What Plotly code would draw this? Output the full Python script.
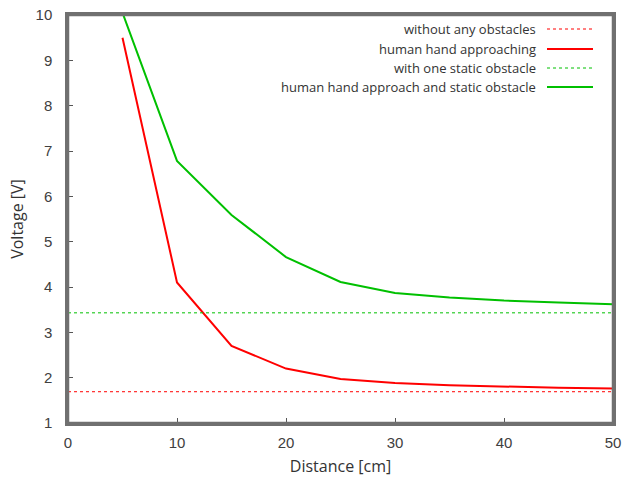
import plotly.graph_objects as go

distance = [5, 10, 15, 20, 25, 30, 35, 40, 45, 50]
hand_only = [9.5, 4.1, 2.70, 2.20, 1.97, 1.88, 1.83, 1.80, 1.78, 1.76]
hand_and_obstacle = [10.05, 6.78, 5.59, 4.66, 4.11, 3.87, 3.77, 3.70, 3.66, 3.62]
baseline_x = [0, 50]
no_obstacle_level = [1.69, 1.69]
static_obstacle_level = [3.43, 3.43]

names = ["without any obstacles", "human hand approaching",
         "with one static obstacle", "human hand approach and static obstacle"]
red = "#ff0000"
green = "#00c000"

W, H = 636, 479
L, R, T, B = 68, 23, 15, 56
pw, ph = W - L - R, H - T - B

fig = go.Figure()
fig.add_trace(go.Scatter(x=baseline_x, y=no_obstacle_level, mode="lines",
                         line=dict(color=red, width=1, dash="dot"), name=names[0]))
fig.add_trace(go.Scatter(x=distance, y=hand_only, mode="lines",
                         line=dict(color=red, width=2), name=names[1]))
fig.add_trace(go.Scatter(x=baseline_x, y=static_obstacle_level, mode="lines",
                         line=dict(color=green, width=1, dash="dot"), name=names[2]))
fig.add_trace(go.Scatter(x=distance, y=hand_and_obstacle, mode="lines",
                         line=dict(color=green, width=2), name=names[3]))


def fx(px):
    return (px - L) / pw


def fy(py):
    return 1 - (py - T) / ph


rows_y = [29, 49, 68, 87]
styles = [(red, 1, "dot"), (red, 2, "solid"), (green, 1, "dot"), (green, 2, "solid")]
for name, ry, (c, w, d) in zip(names, rows_y, styles):
    fig.add_annotation(x=fx(538), y=fy(ry), xref="paper", yref="paper",
                       text=name, showarrow=False, xanchor="right", yanchor="middle",
                       font=dict(size=13, color="#333333"))
    fig.add_shape(type="line", xref="paper", yref="paper",
                  x0=fx(547), x1=fx(593), y0=fy(ry), y1=fy(ry),
                  line=dict(color=c, width=w, dash=d))

frame = "#707070"
fig.add_shape(type="rect", xref="x domain", yref="y domain", x0=0, x1=1, y0=0, y1=1,
              line=dict(color=frame, width=2.5), fillcolor="rgba(0,0,0,0)", layer="above")

axis_common = dict(showgrid=False, zeroline=False, showline=True, linecolor=frame,
                   linewidth=2.5, mirror=True, ticks="inside", ticklen=5,
                   tickcolor="#555555", tickwidth=1,
                   tickfont=dict(family="Liberation Sans", size=15, color="#404040"))
fig.update_layout(
    width=W, height=H,
    margin=dict(l=L, r=R, t=T, b=B, autoexpand=False),
    paper_bgcolor="white", plot_bgcolor="white",
    showlegend=False,
    font=dict(family="Open Sans", color="#333333"),
    xaxis=dict(range=[0, 50], dtick=10, ticklabelstandoff=4,
               title=dict(text="Distance [cm]", font=dict(size=16), standoff=12),
               **axis_common),
    yaxis=dict(range=[1, 10], dtick=1, ticklabelstandoff=10,
               title=dict(text="Voltage [V]", font=dict(size=16), standoff=8),
               **axis_common),
)
fig.write_html("out.html", config={"displayModeBar": False},
               post_script="document.body.style.margin='0';")
